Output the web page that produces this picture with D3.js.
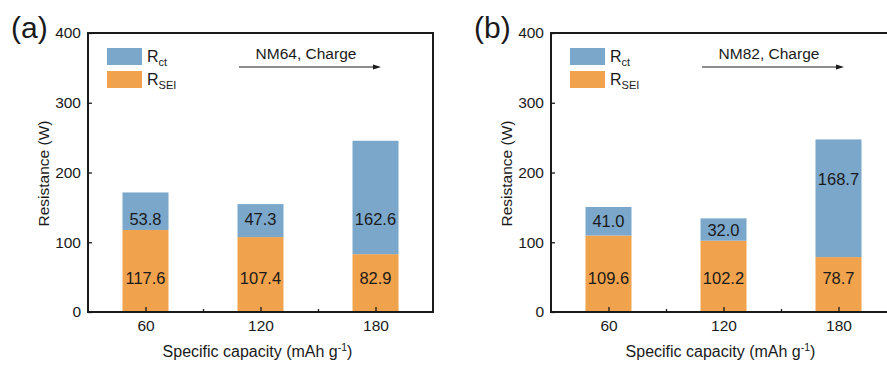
<!DOCTYPE html>
<html>
<head>
<meta charset="utf-8">
<script src="https://cdn.jsdelivr.net/npm/d3@7"></script>
<style>
  body { margin: 0; background: #fff; }
  svg { display: block; font-family: Arial, "Liberation Sans", sans-serif; }
</style>
</head>
<body>
<div id="chart"></div>
<script>
// data
const capacities = [60, 120, 180];
const panelNames = ['(a)', '(b)'];
const panelNotes = ['NM64, Charge', 'NM82, Charge'];
const rsei = [[117.6, 107.4, 82.9], [109.6, 102.2, 78.7]];
const rct = [[53.8, 47.3, 162.6], [41.0, 32.0, 168.7]];
// where the value labels sit (in resistance units)
const rctLabelAt = [[133, 133, 133], [130, 118, 191]];
const seiLabelAt = [[49, 49, 49], [49, 49, 49]];
const yTicks = [0, 100, 200, 300, 400];

const W = 887, H = 365;
const blue = '#7ba7cb', orange = '#f0a24c';

const svg = d3.select('#chart').append('svg')
  .attr('width', W).attr('height', H);

const panelLeft = [88, 551];
const plotW = 345, plotTop = 33, plotBottom = 312;

const y = d3.scaleLinear().domain([0, 400]).range([plotBottom, plotTop]);

panelLeft.forEach((left, p) => {
  const g = svg.append('g');
  const x = d3.scaleLinear().domain([30, 210]).range([left, left + plotW]);
  const bw = x(24) - x(0);

  // bars
  capacities.forEach((c, i) => {
    g.append('rect')
      .attr('x', x(c) - bw / 2).attr('width', bw)
      .attr('y', y(rsei[p][i])).attr('height', y(0) - y(rsei[p][i]))
      .attr('fill', orange);
    g.append('rect')
      .attr('x', x(c) - bw / 2).attr('width', bw)
      .attr('y', y(rsei[p][i] + rct[p][i]))
      .attr('height', y(rsei[p][i]) - y(rsei[p][i] + rct[p][i]))
      .attr('fill', blue);
    g.append('text').attr('x', x(c)).attr('y', y(rctLabelAt[p][i]))
      .attr('text-anchor', 'middle').attr('dominant-baseline', 'central')
      .attr('font-size', 16.5).attr('fill', '#1a1a1a')
      .text(rct[p][i].toFixed(1));
    g.append('text').attr('x', x(c)).attr('y', y(seiLabelAt[p][i]))
      .attr('text-anchor', 'middle').attr('dominant-baseline', 'central')
      .attr('font-size', 16.5).attr('fill', '#1a1a1a')
      .text(rsei[p][i].toFixed(1));
  });

  // axes
  const xAxis = g.append('g').attr('transform', `translate(0,${plotBottom})`)
    .call(d3.axisBottom(x).tickValues(capacities).tickSize(-5).tickPadding(8));
  xAxis.selectAll('.tick text').attr('font-size', 15.5).attr('fill', '#1a1a1a');
  xAxis.select('.domain').remove();
  g.append('g').attr('transform', `translate(0,${plotBottom})`)
    .call(d3.axisBottom(x).tickValues([90, 150]).tickSize(-3).tickFormat(''))
    .select('.domain').remove();

  const yAxis = g.append('g').attr('transform', `translate(${left},0)`)
    .call(d3.axisLeft(y).tickValues(yTicks).tickSize(-4).tickPadding(7));
  yAxis.selectAll('.tick text').attr('font-size', 15.5).attr('fill', '#1a1a1a');
  yAxis.select('.domain').remove();
  g.selectAll('.tick line').attr('stroke', '#1a1a1a').attr('stroke-width', 1.3);

  // frame
  g.append('rect').attr('x', left).attr('y', plotTop)
    .attr('width', plotW).attr('height', plotBottom - plotTop)
    .attr('fill', 'none').attr('stroke', '#1a1a1a').attr('stroke-width', 2);

  // titles
  g.append('text').attr('x', left + plotW / 2 - 3).attr('y', 357)
    .attr('text-anchor', 'middle').attr('font-size', 16).attr('fill', '#1a1a1a')
    .html('Specific capacity (mAh g<tspan dy="-6" font-size="10.5">-1</tspan><tspan dy="6">)</tspan>');
  g.append('text')
    .attr('transform', `translate(${left - 39},${(plotTop + plotBottom) / 2 + 1}) rotate(-90)`)
    .attr('text-anchor', 'middle').attr('font-size', 15.5).attr('fill', '#1a1a1a')
    .text('Resistance (W)');
  g.append('text').attr('x', left - 77).attr('y', 38)
    .attr('font-size', 30).attr('fill', '#1a1a1a').text(panelNames[p]);

  // legend
  const lx = left + 19;
  g.append('rect').attr('x', lx).attr('y', 48).attr('width', 35).attr('height', 17).attr('fill', blue);
  g.append('rect').attr('x', lx).attr('y', 71).attr('width', 35).attr('height', 17).attr('fill', orange);
  g.append('text').attr('x', lx + 40).attr('y', 62).attr('font-size', 16).attr('fill', '#1a1a1a')
    .html('R<tspan dy="4" font-size="11">ct</tspan>');
  g.append('text').attr('x', lx + 40).attr('y', 85).attr('font-size', 16).attr('fill', '#1a1a1a')
    .html('R<tspan dy="4" font-size="11">SEI</tspan>');

  // annotation arrow
  const ax0 = left + 151, ax1 = left + 293;
  g.append('text').attr('x', (ax0 + ax1) / 2 - 4).attr('y', 59)
    .attr('text-anchor', 'middle').attr('font-size', 15.5).attr('fill', '#1a1a1a')
    .text(panelNotes[p]);
  g.append('line').attr('x1', ax0).attr('x2', ax1 - 6).attr('y1', 67).attr('y2', 67)
    .attr('stroke', '#1a1a1a').attr('stroke-width', 1);
  g.append('path')
    .attr('d', `M${ax1},67 L${ax1 - 8},64.5 L${ax1 - 8},69.5 Z`)
    .attr('fill', '#1a1a1a');
});
</script>
</body>
</html>
